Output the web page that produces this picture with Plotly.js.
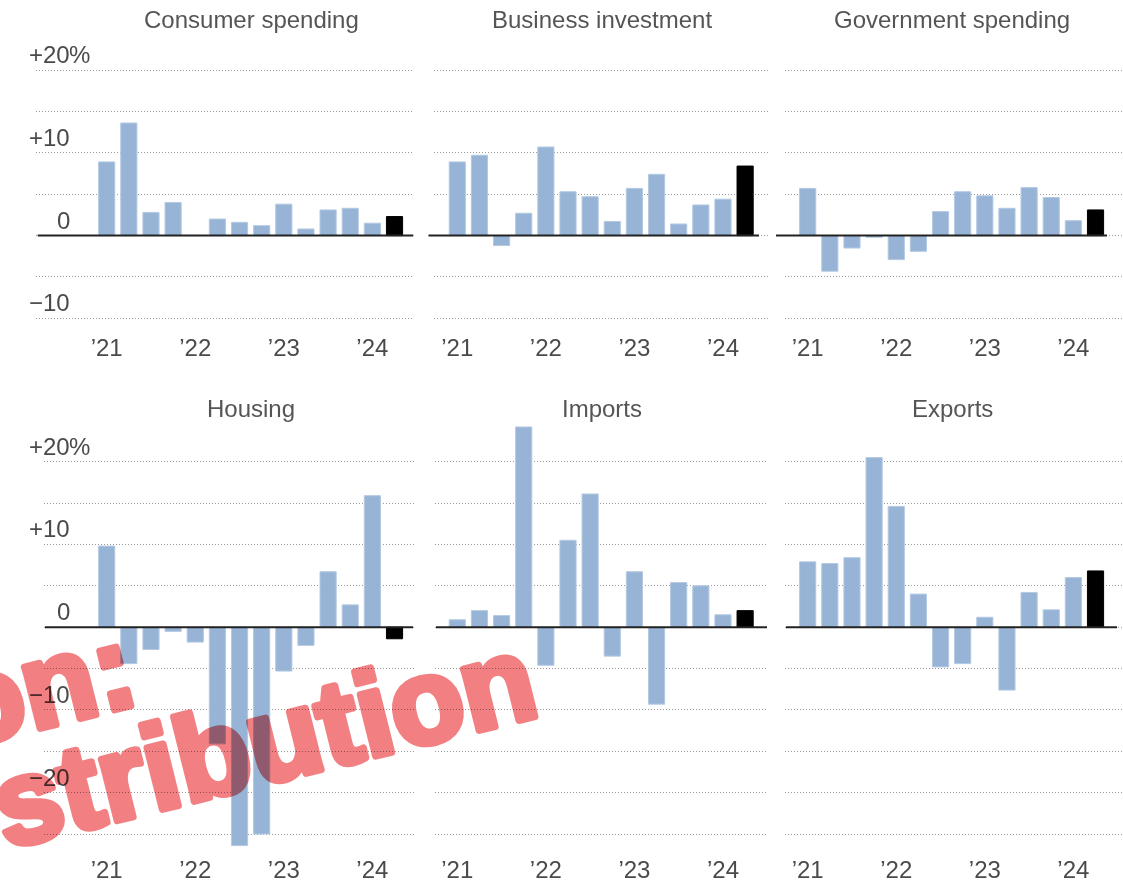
<!DOCTYPE html>
<html>
<head>
<meta charset="utf-8">
<script src="https://cdn.plot.ly/plotly-3.0.1.min.js"></script>
<style>
  html, body { margin: 0; padding: 0; background: #fff; }
  #chart { width: 1123px; height: 883px; }
  .annotation { mix-blend-mode: multiply; }
</style>
</head>
<body>
<div id="chart"></div>
<script>
// ---- data (annualized % change by quarter) ----
const quarters = ['2021 Q1','2021 Q2','2021 Q3','2021 Q4','2022 Q1','2022 Q2','2022 Q3','2022 Q4',
                  '2023 Q1','2023 Q2','2023 Q3','2023 Q4','2024 Q1','2024 Q2'];
const consumerSpending   = [8.9, 13.6, 2.8, 4.0, 0.0, 2.0, 1.6, 1.2, 3.8, 0.8, 3.1, 3.3, 1.5, 2.3];
const businessInvestment = [8.9, 9.7, -1.2, 2.7, 10.7, 5.3, 4.7, 1.7, 5.7, 7.4, 1.4, 3.7, 4.4, 8.4];
const governmentSpending = [5.7, -4.3, -1.5, -0.2, -2.9, -1.9, 2.9, 5.3, 4.8, 3.3, 5.8, 4.6, 1.8, 3.1];
const housing            = [9.8, -4.4, -2.7, -0.5, -1.8, -14.1, -26.4, -25.0, -5.3, -2.2, 6.7, 2.7, 15.9, -1.4];
const importsGrowth      = [0.9, 2.0, 1.4, 24.2, -4.6, 10.5, 16.1, -3.5, 6.7, -9.3, 5.4, 5.0, 1.5, 2.0];
const exportsGrowth      = [7.9, 7.7, 8.4, 20.5, 14.6, 4.0, -4.8, -4.4, 1.2, -7.6, 4.2, 2.1, 6.0, 6.8];

const panelTitles = ['Consumer spending','Business investment','Government spending','Housing','Imports','Exports'];
const panelSeries = [consumerSpending, businessInvestment, governmentSpending, housing, importsGrowth, exportsGrowth];

const xTickVals = ['2021 Q1','2022 Q1','2023 Q1','2024 Q1'];
const xTickText = ['\u201921','\u201922','\u201923','\u201924'];

const topGridVals    = [-10, -5, 0, 5, 10, 15, 20];
const bottomGridVals = [-25, -20, -15, -10, -5, 0, 5, 10, 15, 20];
const topLabelVals    = [20, 10, 0, -10];
const topLabelText    = ['+20%', '+10', '0', '\u221210'];
const bottomLabelVals = [20, 10, 0, -10, -20];
const bottomLabelText = ['+20%', '+10', '0', '\u221210', '\u221220'];

const watermarkText = ['on:', 'stribution'];

// ---- layout geometry (pixels) ----
const W = 1123, H = 883;
const px = v => v / W;
const py = v => 1 - v / H;
const SPACING = 22.14;
// [left, right, firstBarCenter, zeroLineLeft, zeroLineRight]
const cols = [
  [[36, 414, 106.7, 37.7, 413.3], [434, 768, 457.3, 428.5, 759], [785, 1123, 807.7, 776, 1107]],
  [[44, 414, 106.7, 45, 413],     [435, 768, 457.3, 436, 767],   [785, 1123, 807.7, 786, 1117]]
];
const rows = [
  {top: 53.46, bottom: 331.0, zeroPx: 235.7, top20: 22, grid: topGridVals, labV: topLabelVals, labT: topLabelText, titleY: 20},
  {top: 420.35, bottom: 852.8, zeroPx: 627.3, top20: 25, grid: bottomGridVals, labV: bottomLabelVals, labT: bottomLabelText, titleY: 409}
];
const PX_PER_UNIT = 8.27;
rows.forEach(rw => { rw.range = [-(rw.bottom - rw.zeroPx) / PX_PER_UNIT, rw.top20]; });

const BLUE = '#97b4d6';
const FONT = 'Liberation Sans, Arial, sans-serif';
const WM_COLOR = 'rgb(242,128,130)';

const data = [];
const layout = {
  width: W, height: H,
  margin: {l: 0, r: 0, t: 0, b: 0},
  paper_bgcolor: '#fff', plot_bgcolor: 'rgba(0,0,0,0)',
  showlegend: false,
  bargap: 0.27,
  annotations: [],
  shapes: [],
  font: {family: FONT}
};

for (let r = 0; r < 2; r++) {
  for (let c = 0; c < 3; c++) {
    const k = r * 3 + c;
    const n = k + 1;
    const xa = n === 1 ? 'xaxis' : 'xaxis' + n;
    const ya = n === 1 ? 'yaxis' : 'yaxis' + n;
    const xr = n === 1 ? 'x' : 'x' + n;
    const yr = n === 1 ? 'y' : 'y' + n;
    const [L, R, c0, zl, zr] = cols[r][c];
    const row = rows[r];
    const vals = panelSeries[k];

    data.push({
      type: 'bar', x: quarters, y: vals, xaxis: xr, yaxis: yr,
      marker: {
        color: vals.map((v, i) => i === vals.length - 1 ? '#000' : BLUE),
        line: {color: vals.map((v, i) => i === vals.length - 1 ? '#000' : '#b3c9e2'), width: 1}
      },
      hoverinfo: 'skip'
    });

    layout[xa] = {
      domain: [px(L), px(R)], anchor: yr, type: 'category',
      categoryorder: 'array', categoryarray: quarters,
      range: [(L - c0) / SPACING, (R - c0) / SPACING],
      showgrid: false, zeroline: false, showline: false, ticks: '',
      tickvals: xTickVals, ticktext: xTickText,
      tickfont: {family: FONT, size: 24, color: '#4a4a4a'},
      fixedrange: true
    };
    layout[ya] = {
      domain: [py(row.bottom), py(row.top)], anchor: xr,
      range: row.range, tickvals: row.grid, showticklabels: false,
      showgrid: true, gridcolor: '#9a9a9a', gridwidth: 1, griddash: '1px,2px',
      zeroline: false, showline: false, ticks: '', fixedrange: true
    };

    // zero baseline
    layout.shapes.push({type: 'line', xref: 'paper', yref: yr, x0: px(zl), x1: px(zr), y0: 0, y1: 0,
                        line: {color: '#222', width: 2}, layer: 'above'});

    // panel title
    layout.annotations.push({
      xref: 'paper', yref: 'paper', x: px(c0 + 6.5 * SPACING + 0.8), y: py(row.titleY),
      xanchor: 'center', yanchor: 'middle', showarrow: false,
      text: panelTitles[k], font: {family: FONT, size: 24, color: '#555'}
    });

    // y labels on the first column only
    if (c === 0) {
      row.labV.forEach((v, i) => {
        const lab = row.labT[i];
        const pct = lab.endsWith('%');
        layout.annotations.push({
          xref: 'paper', yref: yr, x: px(72), y: v, xanchor: 'right', yanchor: 'bottom',
          showarrow: false, text: pct ? lab.slice(0, -1) : lab,
          font: {family: FONT, size: 24, color: '#4a4a4a'}
        });
        if (pct) {
          layout.annotations.push({
            xref: 'paper', yref: yr, x: px(67), y: v, xanchor: 'left', yanchor: 'bottom',
            showarrow: false, text: '%', font: {family: FONT, size: 24, color: '#4a4a4a'}
          });
        }
      });
    }
  }
}

// watermark stamp
layout.annotations.push({
  xref: 'paper', yref: 'paper', x: px(41), y: py(685), xanchor: 'center', yanchor: 'middle',
  showarrow: false, text: '<b>' + watermarkText[0] + '</b>', textangle: -14,
  font: {family: FONT, size: 120, color: WM_COLOR}
});
layout.annotations.push({
  xref: 'paper', yref: 'paper', x: px(263), y: py(741), xanchor: 'center', yanchor: 'middle',
  showarrow: false, text: '<b>' + watermarkText[1] + '</b>', textangle: -14,
  font: {family: FONT, size: 120, color: WM_COLOR}
});

Plotly.newPlot('chart', data, layout, {displayModeBar: false, staticPlot: true}).then(gd => {
  // heavier stamp lettering
  gd.querySelectorAll('.annotation-text').forEach(t => {
    if (watermarkText.includes(t.textContent)) {
      t.style.stroke = WM_COLOR;
      t.style.strokeWidth = '7px';
      t.style.strokeLinejoin = 'round';
    }
  });
});
</script>
</body>
</html>
